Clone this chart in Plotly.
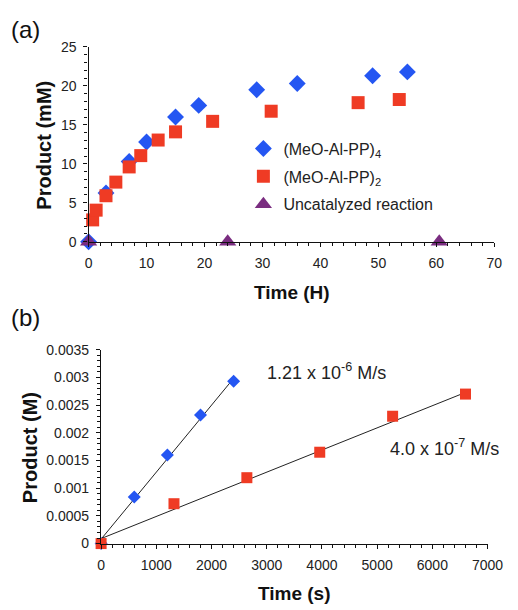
import plotly.graph_objects as go

W, H = 518, 610
FONT = "Liberation Sans, Arial, Helvetica, sans-serif"

# ---- Panel (a): product vs time (hours)
a_tetramer_t = [0, 3, 7, 10, 15, 19, 29, 36, 49, 55]
a_tetramer_p = [0, 6.25, 10.3, 12.8, 16.0, 17.5, 19.5, 20.3, 21.3, 21.8]
a_dimer_t = [0.7, 1.3, 3, 4.7, 7, 9, 12, 15, 21.4, 31.5, 46.5, 53.6]
a_dimer_p = [2.8, 4.05, 5.9, 7.65, 9.6, 11.05, 13.05, 14.1, 15.45, 16.75, 17.85, 18.25]
a_uncat_t = [0, 24, 60.5]
a_uncat_p = [0, 0, 0]

# ---- Panel (b): initial rates (seconds)
b_tetramer_t = [0, 600, 1200, 1800, 2400]
b_tetramer_p = [0, 0.00084, 0.0016, 0.00232, 0.00293]
b_dimer_t = [0, 1320, 2640, 3960, 5280, 6600]
b_dimer_p = [0, 0.00072, 0.00119, 0.00165, 0.0023, 0.0027]

# linear fits (slope in M/s, intercept in M)
fit_tetramer = (1.21e-6, 0.00008)
fit_dimer = (4.0e-7, 0.00009)

BLUE = "#2456F2"
RED = "#EF3B24"
PURPLE = "#7A2D80"


def px_x(v):
    return v / W


def px_y(v):
    return 1 - v / H


fig = go.Figure()

fig.add_trace(go.Scatter(
    x=a_tetramer_t, y=a_tetramer_p, mode="markers", name="(MeO-Al-PP)<sub>4</sub>",
    marker=dict(symbol="diamond", size=13, color=BLUE), cliponaxis=False,
    xaxis="x", yaxis="y", legendgroup="g1"))
fig.add_trace(go.Scatter(
    x=a_dimer_t, y=a_dimer_p, mode="markers", name="(MeO-Al-PP)<sub>2</sub>",
    marker=dict(symbol="square", size=13, color=RED), cliponaxis=False,
    xaxis="x", yaxis="y", legendgroup="g2"))
fig.add_trace(go.Scatter(
    x=a_uncat_t, y=a_uncat_p, mode="markers", name="Uncatalyzed reaction",
    marker=dict(symbol="triangle-up", size=15, color=PURPLE), cliponaxis=False,
    xaxis="x", yaxis="y", legendgroup="g3"))

# trend lines in panel (b)
for (slope, icpt), tmax in ((fit_tetramer, max(b_tetramer_t)), (fit_dimer, max(b_dimer_t))):
    fig.add_trace(go.Scatter(
        x=[0, tmax], y=[icpt, icpt + slope * tmax], mode="lines",
        line=dict(color="#222", width=1), showlegend=False, hoverinfo="skip",
        xaxis="x2", yaxis="y2"))

fig.add_trace(go.Scatter(
    x=b_tetramer_t, y=b_tetramer_p, mode="markers", showlegend=False,
    marker=dict(symbol="diamond", size=10, color=BLUE), cliponaxis=False,
    xaxis="x2", yaxis="y2"))
fig.add_trace(go.Scatter(
    x=b_dimer_t, y=b_dimer_p, mode="markers", showlegend=False,
    marker=dict(symbol="square", size=11, color=RED), cliponaxis=False,
    xaxis="x2", yaxis="y2"))

axis_common = dict(
    showgrid=False, zeroline=False, showline=True, linecolor="#111", linewidth=1.3,
    ticks="outside", ticklen=4, tickcolor="#111", tickwidth=1.2,
    tickfont=dict(family=FONT, size=14, color="#222"),
)

fig.update_layout(
    width=W, height=H, margin=dict(l=0, r=0, t=0, b=0),
    paper_bgcolor="white", plot_bgcolor="white",
    font=dict(family=FONT, color="#111"),
    xaxis=dict(**axis_common, domain=[px_x(88), px_x(510)], range=[0, 70], dtick=10,
               anchor="y", ticklabelstandoff=4,
               minor=dict(dtick=2, ticks="outside", ticklen=3, tickcolor="#111")),
    yaxis=dict(**axis_common, domain=[px_y(240), px_y(40)], range=[0, 25], dtick=5,
               anchor="x", ticklabelstandoff=4,
               minor=dict(dtick=1, ticks="outside", ticklen=3, tickcolor="#111")),
    xaxis2=dict(**axis_common, domain=[px_x(101), px_x(503)], range=[0, 7000], dtick=1000,
                anchor="y2", ticklabelstandoff=4,
                minor=dict(dtick=200, ticks="outside", ticklen=3, tickcolor="#111")),
    yaxis2=dict(**axis_common, domain=[px_y(550), px_y(351)], range=[0, 0.0035], dtick=0.0005,
                tickformat="~g", anchor="x2", ticklabelstandoff=4,
                minor=dict(dtick=0.0001, ticks="outside", ticklen=3, tickcolor="#111")),
    legend=dict(x=px_x(249), y=px_y(127), xanchor="left", yanchor="top",
                bgcolor="rgba(0,0,0,0)", traceorder="grouped", tracegroupgap=4,
                font=dict(family=FONT, size=16, color="#222")),
    showlegend=True,
)

annotations = [
    dict(text="(a)", x=px_x(5), y=px_y(22), xanchor="left", yanchor="middle",
         font=dict(size=24, color="#111")),
    dict(text="(b)", x=px_x(5), y=px_y(318), xanchor="left", yanchor="middle",
         font=dict(size=24, color="#111")),
    dict(text="<b>Product (mM)</b>", x=px_x(42), y=px_y(141), textangle=-90,
         xanchor="center", yanchor="middle", font=dict(size=20, color="#111")),
    dict(text="<b>Time (H)</b>", x=px_x(300), y=px_y(292),
         xanchor="center", yanchor="middle", font=dict(size=19, color="#111")),
    dict(text="<b>Product (M)</b>", x=px_x(27), y=px_y(451), textangle=-90,
         xanchor="center", yanchor="middle", font=dict(size=20, color="#111")),
    dict(text="<b>Time (s)</b>", x=px_x(302), y=px_y(601),
         xanchor="center", yanchor="middle", font=dict(size=19, color="#111")),
    dict(text="1.21 x 10<sup>-6</sup> M/s", x=px_x(272), y=px_y(373),
         xanchor="left", yanchor="middle", font=dict(size=18, color="#222")),
    dict(text="4.0 x 10<sup>-7</sup> M/s", x=px_x(399), y=px_y(451),
         xanchor="left", yanchor="middle", font=dict(size=18, color="#222")),
]
for a in annotations:
    a.update(xref="paper", yref="paper", showarrow=False)
    a["font"]["family"] = FONT
fig.update_layout(annotations=annotations)

fig.write_html("out.html")
